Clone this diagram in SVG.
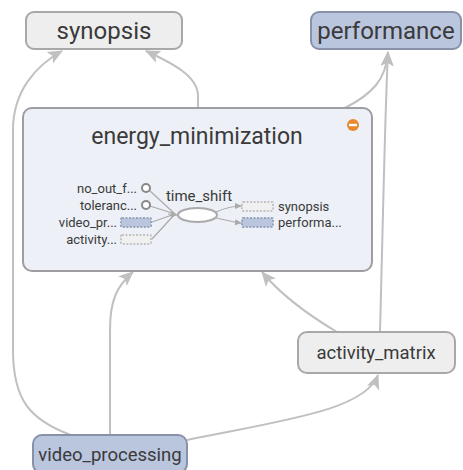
<svg xmlns="http://www.w3.org/2000/svg" width="463" height="470" viewBox="0 0 463 470">
<style>
text{font-family:Roboto,"Liberation Sans",sans-serif;fill:#3a3a3a}
.node rect{stroke-width:2}
.gray{fill:#eeeeee;stroke:#a8a8a8}
.blue{fill:#bac5de;stroke:#8891a8}
.big{font-size:24px;text-anchor:middle}
.mid{font-size:18.5px;text-anchor:middle}
.edge{fill:none;stroke:#c0c0c0;stroke-width:2}
.iedge{fill:none;stroke:#aaa;stroke-width:1.2}
.small{font-size:13px}
</style>
<defs>
<marker id="ah" markerUnits="userSpaceOnUse" markerWidth="16" markerHeight="16" viewBox="0 0 16 16" refX="14" refY="8" orient="auto">
<path d="M0,1.5 L15,8 L0,14.5 L3.5,8 Z" fill="#c0c0c0"/>
</marker>
<marker id="ahs" markerUnits="userSpaceOnUse" markerWidth="8" markerHeight="8" viewBox="0 0 8 8" refX="7" refY="4" orient="auto">
<path d="M0,1 L7,4 L0,7 Z" fill="#aaa"/>
</marker>
</defs>
<rect width="463" height="470" fill="#ffffff"/>
<g id="connectors">
<path class="edge" marker-end="url(#ah)" d="M71,435 C30,420 13,400 13,350 L13,130 C13,92 35,66 62,51"/>
<path class="edge" marker-end="url(#ah)" d="M198,108 L198,96 C198,76 172,63 146,51"/>
<path class="edge" marker-end="url(#ah)" d="M345,108 C372,94 386,80 388,52"/>
<path class="edge" marker-end="url(#ah)" d="M380,332 C383,220 385,110 388,52"/>
<path class="edge" marker-end="url(#ah)" d="M110,435 L110,330 C110,300 117,286 133,272"/>
<path class="edge" marker-end="url(#ah)" d="M337,332 C310,316 282,296 262,272"/>
<path class="edge" marker-end="url(#ah)" d="M187,440 C285,420 365,410 378,375"/>
</g>
<g id="synopsis" class="node">
<rect class="gray" x="26" y="12" width="156" height="37" rx="8"/>
<text class="big" x="104" y="39">synopsis</text>
</g>
<g id="performance" class="node">
<rect class="blue" x="311" y="12" width="150" height="37" rx="8"/>
<text class="big" x="386" y="39">performance</text>
</g>
<g id="energy_minimization" class="node">
<rect x="23" y="108" width="349" height="163" rx="9" fill="#edf0f6" stroke="#9d9da2" stroke-width="5"/>
<text x="197" y="144" font-size="23" text-anchor="middle">energy_minimization</text>
<circle cx="353" cy="125" r="6" fill="#e8892e"/>
<rect x="349" y="123.8" width="8" height="2.4" fill="#ffffff"/>
<g id="inner">
<path class="iedge" d="M149,190 L175,214"/>
<path class="iedge" d="M150,206 L175,214"/>
<path class="iedge" d="M152,222 L175,214"/>
<path class="iedge" d="M152,239 L175,214"/>
<path class="iedge" marker-end="url(#ahs)" d="M168,214 L178,215"/>
<ellipse cx="197.5" cy="215" rx="19.5" ry="7" fill="#ffffff" stroke="#aaa" stroke-width="2"/>
<text x="199" y="201" font-size="15" text-anchor="middle" fill="#555">time_shift</text>
<path class="iedge" marker-end="url(#ahs)" d="M216,212 C225,208 232,206 242,206"/>
<path class="iedge" marker-end="url(#ahs)" d="M216,218 C225,220 232,222 242,223"/>
<circle cx="146" cy="188" r="4" fill="#fff" stroke="#888" stroke-width="2"/>
<circle cx="146" cy="205" r="4" fill="#fff" stroke="#888" stroke-width="2"/>
<rect x="121" y="218" width="30" height="9" rx="1" fill="#bac5de" stroke="#9aa4bc" stroke-dasharray="2,1.5"/>
<rect x="121" y="235" width="30" height="9" rx="1" fill="#f0f0f0" stroke="#c4c4c4" stroke-dasharray="2,1.5"/>
<rect x="242" y="202" width="31" height="9" rx="1" fill="#f0f0f0" stroke="#c4c4c4" stroke-dasharray="2,1.5"/>
<rect x="242" y="218" width="31" height="9" rx="1" fill="#bac5de" stroke="#9aa4bc" stroke-dasharray="2,1.5"/>
<text class="small" x="137" y="193" text-anchor="end">no_out_f...</text>
<text class="small" x="137" y="210" text-anchor="end">toleranc...</text>
<text class="small" x="117" y="227" text-anchor="end">video_pr...</text>
<text class="small" x="117" y="244" text-anchor="end">activity...</text>
<text class="small" x="278" y="211">synopsis</text>
<text class="small" x="278" y="227">performa...</text>
</g>
</g>
<g id="activity_matrix" class="node">
<rect class="gray" x="298" y="332" width="157" height="41" rx="9"/>
<text class="mid" x="376" y="359">activity_matrix</text>
</g>
<g id="video_processing" class="node">
<rect class="blue" x="33" y="435" width="154" height="38" rx="9"/>
<text class="mid" x="110" y="461">video_processing</text>
</g>
</svg>
